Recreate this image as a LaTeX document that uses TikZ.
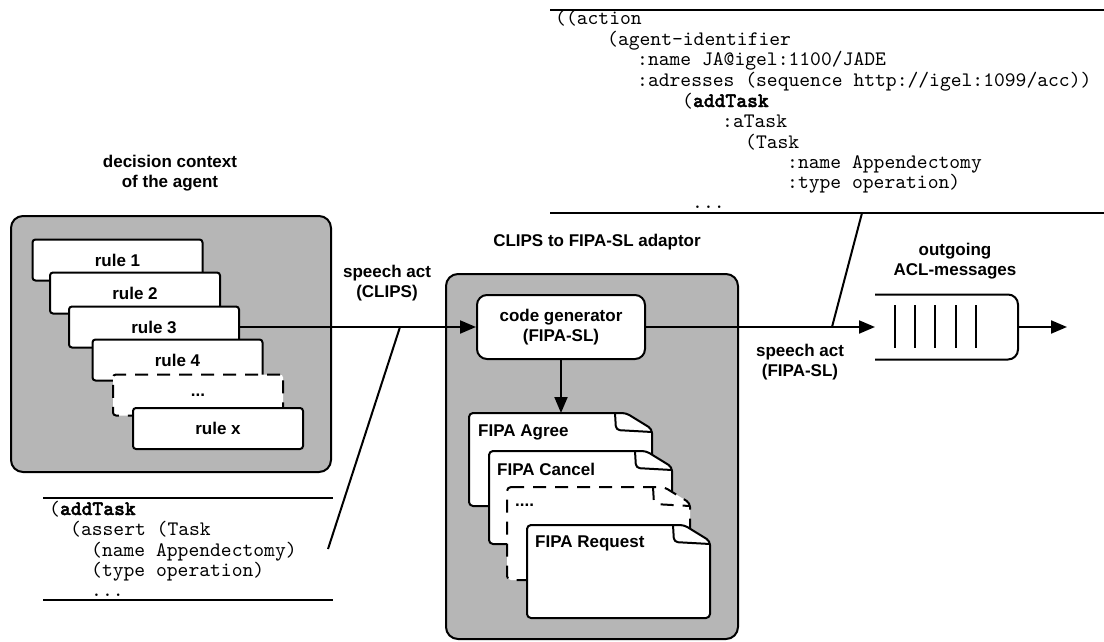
\documentclass[tikz,border=0pt]{standalone}
\usepackage{fontspec}
\setmainfont{Liberation Sans}
\newfontfamily\codefont{lmmono10-regular}[Extension=.otf, BoldFont=lmmonolt10-bold, BoldFeatures={FakeBold=2}]
\usetikzlibrary{arrows.meta,calc}
\definecolor{boxgray}{RGB}{182,182,182}
\newcommand\docpath[2][]{%
  \draw[docline,#1] (#2.north west) -- ([xshift=-26pt]#2.north east) -- ([yshift=-16pt]#2.north east) -- (#2.south east) -- (#2.south west) -- cycle;
  \draw[docline,#1,fill=none] ([xshift=-37pt]#2.north east) -- ([xshift=-36pt,yshift=-17pt]#2.north east) -- ([yshift=-19pt]#2.north east);}
\begin{document}
\begin{tikzpicture}[x=1pt,y=-1pt,
  lbl/.style={font=\fontsize{17}{20}\selectfont\bfseries, align=center, inner sep=0},
  ctx/.style={draw, line width=2pt, fill=boxgray, rounded corners=12pt, inner sep=0, anchor=north west},
  rulebox/.style={draw, line width=2pt, fill=white, rounded corners=3pt, minimum width=170pt, minimum height=41pt, inner sep=0, font=\fontsize{17}{20}\selectfont\bfseries},
  dashbox/.style={dash pattern=on 13pt off 9pt},
  docbase/.style={minimum width=183pt, minimum height=93pt, inner sep=0, outer sep=0, anchor=north west},
  docline/.style={line width=2pt, fill=white, rounded corners=4pt, line join=round},
  doclbl/.style={font=\fontsize{17}{20}\selectfont\bfseries, anchor=west, inner sep=0},
  code/.style={font=\codefont\fontsize{20.6}{20}\selectfont, anchor=base west, inner sep=0},
  coderule/.style={line width=1.5pt},
  conn/.style={line width=2pt},
  arr/.style={line width=2pt, -{Triangle[length=16pt,width=13pt]}}
]
\useasboundingbox (0,0) rectangle (1104,642);

% ---------- left: decision context ----------
\node[lbl] (ctxT) at (170,173) {decision context\\of the agent};
\node[ctx, minimum width=320pt, minimum height=256pt] (ctxbox) at (10,215) {};
\node[rulebox] (r1) at (117.5,260) {rule 1};
\node[rulebox] (r2) at (135,293) {rule 2};
\node[rulebox] (r3) at (154,327) {rule 3};
\node[rulebox] (r4) at (177.5,360) {rule 4};
\node[rulebox,dashbox] (rd) at (198,395) {...};
\node[rulebox] (rx) at (218,428.5) {rule x};

% ---------- CLIPS code ----------
\draw[coderule] (43,498) -- (333,498);
\draw[coderule] (43,600) -- (333,600);
\node[code] (c1) at (49,515) {(\textbf{addTask}};
\node[code] (c2) at (70,535.5) {(assert (Task};
\node[code] (c3) at (91,556) {(name Appendectomy)};
\node[code] (c4) at (91,576) {(type operation)};
\node[code] (c5) at (91,596) {...};

% ---------- middle: adaptor ----------
\node[lbl] (adT) at (597,242) {CLIPS to FIPA-SL adaptor};
\node[ctx, minimum width=292pt, minimum height=365pt] (adbox) at (445,273) {};
\node[draw, line width=2pt, fill=white, rounded corners=10pt, minimum width=168pt, minimum height=64pt, lbl] (cg) at (561,327) {code generator\\(FIPA-SL)};

\node[docbase] (agree) at (469,413) {};
\docpath{agree}
\node[doclbl] (agreeT) at ([xshift=9pt,yshift=-19pt]agree.north west) {FIPA Agree};
\node[docbase] (cancel) at (489,451) {};
\docpath{cancel}
\node[doclbl] (cancelT) at ([xshift=8pt,yshift=-18pt]cancel.north west) {FIPA Cancel};
\node[docbase] (dots) at (507,487) {};
\docpath[dashbox]{dots}
\node[doclbl] (dotsT) at ([xshift=8pt,yshift=-18pt]dots.north west) {....};
\node[docbase] (request) at (527,525) {};
\docpath{request}
\node[doclbl] (requestT) at ([xshift=8pt,yshift=-18pt]request.north west) {FIPA Request};

\draw[arr] (cg.south) -- (cg.south |- agree.north);

% ---------- FIPA-SL code ----------
\draw[coderule] (550,10) -- (1104,10);
\draw[coderule] (550,213) -- (1104,213);
\node[code] (f1) at (555,25) {((action};
\node[code] (f2) at (607,45.5) {(agent-identifier};
\node[code] (f3) at (637,66) {:name JA@igel:1100/JADE};
\node[code] (f4) at (637,86.5) {:adresses (sequence http://igel:1099/acc))};
\node[code] (f5) at (682,107) {(\textbf{addTask}};
\node[code] (f6) at (722,127.5) {:aTask};
\node[code] (f7) at (745,148) {(Task};
\node[code] (f8) at (787,168) {:name Appendectomy};
\node[code] (f9) at (787,188.5) {:type operation)};
\node[code] (f10) at (692,208) {...};

% ---------- queue ----------
\node[lbl] (outT) at (955,261) {outgoing\\ACL-messages};
\node[minimum width=143pt, minimum height=65pt, inner sep=0, outer sep=0] (q) at (946.5,327) {};
\draw[line width=2pt, rounded corners=10pt] (q.north west) -- (q.north east) -- (q.south east) -- (q.south west);
\foreach \bx in {895,915,935,956,976} \draw[line width=2pt] (\bx,305) -- (\bx,348);

% ---------- connectors ----------
\node[lbl] (sa1) at (387,283) {speech act\\(CLIPS)};
\node[lbl] (sa2) at (800,362) {speech act\\(FIPA-SL)};
\draw[arr] (r3.east) -- (cg.west);
\coordinate (j1) at (400,327);
\coordinate (clipsEnd) at (328,549);
\draw[conn] (j1) -- (clipsEnd);
\draw[arr] (cg.east) -- (q.west);
\coordinate (j2) at (832,327);
\coordinate (fipaEnd) at (862,213);
\draw[conn] (j2) -- (fipaEnd);
\coordinate (outEnd) at (1067,327);
\draw[arr] (q.east) -- (outEnd);
\end{tikzpicture}
\end{document}
